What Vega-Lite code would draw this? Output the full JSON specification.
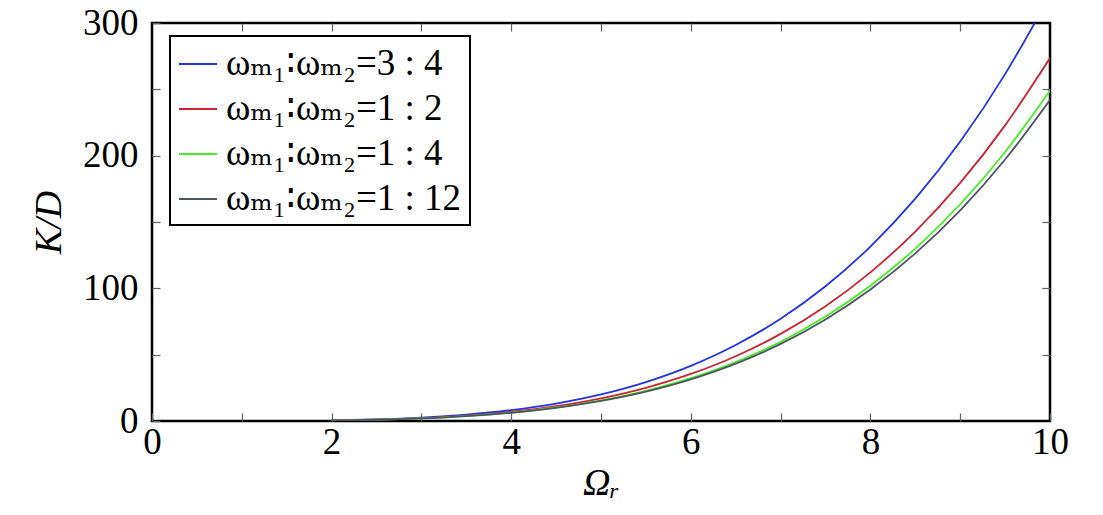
{
  "$schema": "https://vega.github.io/schema/vega-lite/v6.json",
  "width": 898,
  "height": 398,
  "autosize": {"type": "none"},
  "padding": {"left": 152, "top": 23, "right": 53, "bottom": 94},
  "background": "white",
  "config": {
    "view": {"stroke": "black", "strokeWidth": 2.5},
    "font": "Times New Roman, Liberation Serif, DejaVu Serif, serif",
    "legend": {"labelFont": "Times New Roman, Liberation Serif, DejaVu Serif, serif", "labelFontSize": 37},
    "axis": {
      "grid": false,
      "domain": false,
      "tickColor": "#556070",
      "tickWidth": 1.2,
      "tickSize": -8,
      "labelFlush": false,
      "labelFont": "Times New Roman, Liberation Serif, DejaVu Serif, serif",
      "labelFontSize": 37,
      "labelColor": "black",
      "titleFont": "Times New Roman, Liberation Serif, DejaVu Serif, serif",
      "titleFontSize": 38,
      "titleFontStyle": "italic",
      "titleFontWeight": "normal",
      "titleColor": "black"
    }
  },
  "datasets": {
    "curves": [
      {"x": 2, "y": 0.51, "s": "ωₘ₁∶ωₘ₂=3 : 4"}, {"x": 2.5, "y": 1.25, "s": "ωₘ₁∶ωₘ₂=3 : 4"}, {"x": 3, "y": 2.6, "s": "ωₘ₁∶ωₘ₂=3 : 4"}, {"x": 3.5, "y": 4.82, "s": "ωₘ₁∶ωₘ₂=3 : 4"}, {"x": 4, "y": 8.22, "s": "ωₘ₁∶ωₘ₂=3 : 4"}, {"x": 4.5, "y": 13.16, "s": "ωₘ₁∶ωₘ₂=3 : 4"}, {"x": 5, "y": 20.06, "s": "ωₘ₁∶ωₘ₂=3 : 4"}, {"x": 5.5, "y": 29.37, "s": "ωₘ₁∶ωₘ₂=3 : 4"}, {"x": 6, "y": 41.6, "s": "ωₘ₁∶ωₘ₂=3 : 4"}, {"x": 6.5, "y": 57.3, "s": "ωₘ₁∶ωₘ₂=3 : 4"}, {"x": 7, "y": 77.07, "s": "ωₘ₁∶ωₘ₂=3 : 4"}, {"x": 7.5, "y": 101.57, "s": "ωₘ₁∶ωₘ₂=3 : 4"}, {"x": 8, "y": 131.48, "s": "ωₘ₁∶ωₘ₂=3 : 4"}, {"x": 8.5, "y": 167.56, "s": "ωₘ₁∶ωₘ₂=3 : 4"}, {"x": 9, "y": 210.61, "s": "ωₘ₁∶ωₘ₂=3 : 4"}, {"x": 9.5, "y": 261.46, "s": "ωₘ₁∶ωₘ₂=3 : 4"}, {"x": 9.83, "y": 300, "s": "ωₘ₁∶ωₘ₂=3 : 4"},
      {"x": 2, "y": 0.44, "s": "ωₘ₁∶ωₘ₂=1 : 2"}, {"x": 2.5, "y": 1.07, "s": "ωₘ₁∶ωₘ₂=1 : 2"}, {"x": 3, "y": 2.22, "s": "ωₘ₁∶ωₘ₂=1 : 2"}, {"x": 3.5, "y": 4.11, "s": "ωₘ₁∶ωₘ₂=1 : 2"}, {"x": 4, "y": 7.0, "s": "ωₘ₁∶ωₘ₂=1 : 2"}, {"x": 4.5, "y": 11.22, "s": "ωₘ₁∶ωₘ₂=1 : 2"}, {"x": 5, "y": 17.1, "s": "ωₘ₁∶ωₘ₂=1 : 2"}, {"x": 5.5, "y": 25.04, "s": "ωₘ₁∶ωₘ₂=1 : 2"}, {"x": 6, "y": 35.46, "s": "ωₘ₁∶ωₘ₂=1 : 2"}, {"x": 6.5, "y": 48.84, "s": "ωₘ₁∶ωₘ₂=1 : 2"}, {"x": 7, "y": 65.69, "s": "ωₘ₁∶ωₘ₂=1 : 2"}, {"x": 7.5, "y": 86.57, "s": "ωₘ₁∶ωₘ₂=1 : 2"}, {"x": 8, "y": 112.07, "s": "ωₘ₁∶ωₘ₂=1 : 2"}, {"x": 8.5, "y": 142.82, "s": "ωₘ₁∶ωₘ₂=1 : 2"}, {"x": 9, "y": 179.51, "s": "ωₘ₁∶ωₘ₂=1 : 2"}, {"x": 9.5, "y": 222.85, "s": "ωₘ₁∶ωₘ₂=1 : 2"}, {"x": 10, "y": 273.6, "s": "ωₘ₁∶ωₘ₂=1 : 2"},
      {"x": 2, "y": 0.4, "s": "ωₘ₁∶ωₘ₂=1 : 4"}, {"x": 2.5, "y": 0.97, "s": "ωₘ₁∶ωₘ₂=1 : 4"}, {"x": 3, "y": 2.02, "s": "ωₘ₁∶ωₘ₂=1 : 4"}, {"x": 3.5, "y": 3.74, "s": "ωₘ₁∶ωₘ₂=1 : 4"}, {"x": 4, "y": 6.37, "s": "ωₘ₁∶ωₘ₂=1 : 4"}, {"x": 4.5, "y": 10.21, "s": "ωₘ₁∶ωₘ₂=1 : 4"}, {"x": 5, "y": 15.56, "s": "ωₘ₁∶ωₘ₂=1 : 4"}, {"x": 5.5, "y": 22.79, "s": "ωₘ₁∶ωₘ₂=1 : 4"}, {"x": 6, "y": 32.27, "s": "ωₘ₁∶ωₘ₂=1 : 4"}, {"x": 6.5, "y": 44.45, "s": "ωₘ₁∶ωₘ₂=1 : 4"}, {"x": 7, "y": 59.78, "s": "ωₘ₁∶ωₘ₂=1 : 4"}, {"x": 7.5, "y": 78.78, "s": "ωₘ₁∶ωₘ₂=1 : 4"}, {"x": 8, "y": 101.99, "s": "ωₘ₁∶ωₘ₂=1 : 4"}, {"x": 8.5, "y": 129.98, "s": "ωₘ₁∶ωₘ₂=1 : 4"}, {"x": 9, "y": 163.37, "s": "ωₘ₁∶ωₘ₂=1 : 4"}, {"x": 9.5, "y": 202.81, "s": "ωₘ₁∶ωₘ₂=1 : 4"}, {"x": 10, "y": 249, "s": "ωₘ₁∶ωₘ₂=1 : 4"},
      {"x": 2, "y": 0.39, "s": "ωₘ₁∶ωₘ₂=1 : 12"}, {"x": 2.5, "y": 0.95, "s": "ωₘ₁∶ωₘ₂=1 : 12"}, {"x": 3, "y": 1.96, "s": "ωₘ₁∶ωₘ₂=1 : 12"}, {"x": 3.5, "y": 3.63, "s": "ωₘ₁∶ωₘ₂=1 : 12"}, {"x": 4, "y": 6.2, "s": "ωₘ₁∶ωₘ₂=1 : 12"}, {"x": 4.5, "y": 9.92, "s": "ωₘ₁∶ωₘ₂=1 : 12"}, {"x": 5, "y": 15.13, "s": "ωₘ₁∶ωₘ₂=1 : 12"}, {"x": 5.5, "y": 22.14, "s": "ωₘ₁∶ωₘ₂=1 : 12"}, {"x": 6, "y": 31.36, "s": "ωₘ₁∶ωₘ₂=1 : 12"}, {"x": 6.5, "y": 43.2, "s": "ωₘ₁∶ωₘ₂=1 : 12"}, {"x": 7, "y": 58.1, "s": "ωₘ₁∶ωₘ₂=1 : 12"}, {"x": 7.5, "y": 76.57, "s": "ωₘ₁∶ωₘ₂=1 : 12"}, {"x": 8, "y": 99.12, "s": "ωₘ₁∶ωₘ₂=1 : 12"}, {"x": 8.5, "y": 126.33, "s": "ωₘ₁∶ωₘ₂=1 : 12"}, {"x": 9, "y": 158.78, "s": "ωₘ₁∶ωₘ₂=1 : 12"}, {"x": 9.5, "y": 197.11, "s": "ωₘ₁∶ωₘ₂=1 : 12"}, {"x": 10, "y": 242, "s": "ωₘ₁∶ωₘ₂=1 : 12"}
    ]
  },
  "data": {"name": "curves"},
  "resolve": {"axis": {"x": "independent", "y": "independent"}},
  "layer": [
    {
      "mark": {"type": "line", "interpolate": "monotone", "strokeWidth": 1.8, "clip": true},
      "encoding": {
        "x": {
          "field": "x", "type": "quantitative",
          "scale": {"domain": [0, 10], "nice": false},
          "axis": {
            "values": [0, 1, 2, 3, 4, 5, 6, 7, 8, 9, 10],
            "labelExpr": "(datum.value == 0 || datum.value == 2 || datum.value == 4 || datum.value == 6 || datum.value == 8 || datum.value == 10) ? datum.label : ''",
            "labelPadding": 11,
            "title": "Ωᵣ",
            "titlePadding": 4
          }
        },
        "y": {
          "field": "y", "type": "quantitative",
          "scale": {"domain": [0, 300], "nice": false},
          "axis": {
            "values": [0, 50, 100, 150, 200, 250, 300],
            "labelExpr": "(datum.value == 0 || datum.value == 100 || datum.value == 200 || datum.value == 300) ? datum.label : ''",
            "labelPadding": 22,
            "title": "K/D",
            "titlePadding": 14
          }
        },
        "color": {
          "field": "s", "type": "nominal",
          "scale": {"domain": ["ωₘ₁∶ωₘ₂=3 : 4", "ωₘ₁∶ωₘ₂=1 : 2", "ωₘ₁∶ωₘ₂=1 : 4", "ωₘ₁∶ωₘ₂=1 : 12"], "range": ["#2233ee", "#cc2233", "#44ee22", "#4a5560"]},
          "legend": {
            "title": null,
            "orient": "none",
            "legendX": 18,
            "legendY": 13,
            "strokeColor": "black",
            "fillColor": "white",
            "padding": 8,
            "symbolType": "stroke",
            "symbolSize": 1444,
            "symbolStrokeWidth": 2,
            "labelFont": "Times New Roman, Liberation Serif, DejaVu Serif, serif",
            "labelFontSize": 37,
            "labelColor": "black",
            "labelLimit": 400,
            "rowPadding": 7,
            "labelOffset": 8,
            "encode": {"legend": {"update": {"strokeWidth": {"value": 2}}}}
          }
        }
      }
    },
    {
      "mark": {"type": "line", "opacity": 0},
      "encoding": {
        "x": {
          "field": "x", "type": "quantitative",
          "scale": {"domain": [0, 10], "nice": false},
          "axis": {"orient": "top", "values": [1, 2, 3, 4, 5, 6, 7, 8, 9], "labels": false, "title": null}
        },
        "y": {
          "field": "y", "type": "quantitative",
          "scale": {"domain": [0, 300], "nice": false},
          "axis": {"orient": "right", "values": [50, 100, 150, 200, 250], "labels": false, "title": null}
        },
        "detail": {"field": "s"}
      }
    }
  ]
}
